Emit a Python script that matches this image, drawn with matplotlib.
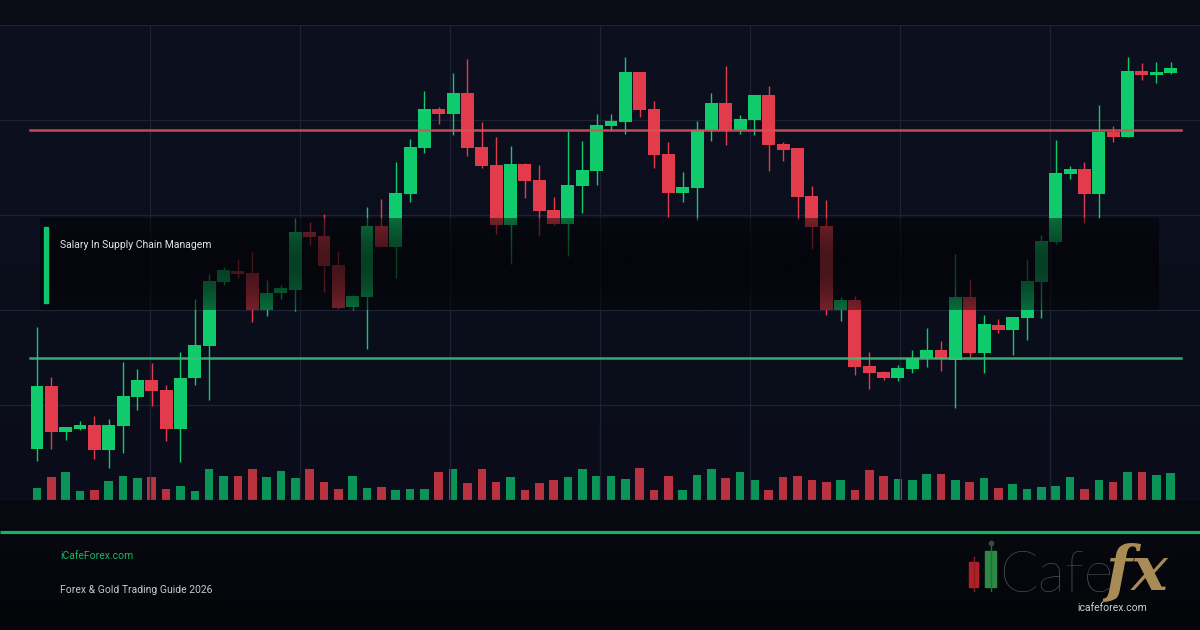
import numpy as np
import matplotlib
matplotlib.use('Agg')
import matplotlib.pyplot as plt
from matplotlib.patches import Rectangle

GREEN = '#0fcb6c'
RED = '#e23b4c'
VOL_GREEN = '#0b9458'
VOL_RED = '#b8323f'
GRID = '#1d2334'

# OHLC + volume
opens = [2310.3, 2322.8, 2313.6, 2314.2, 2314.9, 2310.0, 2314.9, 2320.7, 2324.0, 2322.0,
         2314.3, 2324.5, 2330.9, 2343.7, 2345.9, 2345.5, 2338.0, 2341.5, 2342.0, 2353.5,
         2352.8, 2347.0, 2338.7, 2340.7, 2354.8, 2350.7, 2361.2, 2370.5, 2378.2, 2377.3,
         2381.4, 2370.6, 2367.0, 2355.1, 2367.2, 2364.0, 2358.0, 2355.3, 2362.9, 2365.9,
         2374.9, 2375.7, 2385.6, 2378.2, 2369.2, 2361.5, 2362.5, 2374.0, 2379.4, 2374.1,
         2376.0, 2381.0, 2371.2, 2370.3, 2360.8, 2354.8, 2338.1, 2340.0, 2326.8, 2325.7,
         2324.5, 2326.3, 2328.5, 2330.0, 2328.1, 2340.6, 2329.5, 2335.1, 2334.1, 2336.5,
         2343.7, 2351.7, 2365.3, 2366.2, 2361.3, 2373.6, 2372.7, 2385.8, 2385.1, 2385.5]
highs = [2334.6, 2324.6, 2314.7, 2315.9, 2316.8, 2316.2, 2327.6, 2326.2, 2327.4, 2323.0,
         2329.6, 2340.2, 2345.2, 2346.7, 2348.3, 2349.6, 2344.0, 2343.0, 2356.5, 2355.6,
         2357.3, 2349.8, 2341.0, 2358.7, 2360.2, 2367.6, 2372.2, 2381.8, 2378.7, 2385.4,
         2388.2, 2375.7, 2372.7, 2370.9, 2367.4, 2367.0, 2360.6, 2373.9, 2371.8, 2377.2,
         2377.2, 2388.6, 2385.7, 2379.8, 2371.6, 2365.6, 2375.8, 2381.4, 2386.8, 2377.0,
         2381.0, 2382.8, 2371.6, 2370.5, 2362.9, 2360.1, 2340.7, 2340.9, 2329.7, 2325.8,
         2327.0, 2330.0, 2334.4, 2331.8, 2349.3, 2344.2, 2337.0, 2336.3, 2336.6, 2348.2,
         2353.0, 2372.0, 2366.8, 2367.6, 2379.0, 2374.9, 2388.6, 2387.4, 2387.6, 2387.6]
lows = [2307.9, 2310.3, 2312.0, 2314.0, 2308.3, 2306.5, 2309.4, 2318.0, 2318.9, 2311.8,
        2307.7, 2323.0, 2320.0, 2343.0, 2344.5, 2335.7, 2336.8, 2340.3, 2337.9, 2351.0,
        2341.7, 2338.3, 2338.0, 2330.2, 2350.6, 2344.5, 2359.7, 2369.5, 2375.2, 2373.1,
        2368.8, 2366.5, 2353.2, 2347.3, 2360.5, 2352.8, 2355.0, 2348.9, 2357.5, 2363.0,
        2373.8, 2373.3, 2376.7, 2366.5, 2356.7, 2359.7, 2356.0, 2371.9, 2371.1, 2373.3,
        2373.1, 2365.8, 2367.9, 2356.3, 2350.3, 2337.0, 2335.9, 2325.1, 2322.3, 2324.0,
        2323.9, 2325.5, 2326.7, 2325.9, 2318.5, 2328.7, 2325.5, 2333.5, 2329.0, 2332.1,
        2336.5, 2351.3, 2364.3, 2355.5, 2356.5, 2371.7, 2372.7, 2384.1, 2383.5, 2385.2]
closes = [2322.8, 2313.6, 2314.5, 2314.9, 2310.0, 2315.0, 2320.8, 2324.0, 2321.9, 2314.3,
          2324.5, 2331.0, 2343.8, 2345.9, 2345.3, 2338.0, 2341.5, 2342.3, 2353.6, 2352.7,
          2346.8, 2338.5, 2340.8, 2354.8, 2350.7, 2361.3, 2370.6, 2378.2, 2377.3, 2381.4,
          2370.5, 2366.8, 2355.1, 2367.2, 2363.9, 2357.8, 2355.2, 2363.0, 2366.0, 2375.0,
          2375.8, 2385.6, 2378.1, 2369.1, 2361.5, 2362.6, 2373.9, 2379.4, 2374.0, 2376.2,
          2381.0, 2371.0, 2370.1, 2360.7, 2354.6, 2338.1, 2340.0, 2326.7, 2325.5, 2324.5,
          2326.4, 2328.5, 2330.0, 2328.2, 2340.6, 2329.5, 2335.2, 2334.1, 2336.6, 2343.8,
          2351.8, 2365.4, 2366.2, 2361.3, 2373.6, 2372.7, 2385.8, 2385.1, 2385.6, 2386.4]
volumes = [480, 920, 1120, 360, 400, 760, 960, 880, 920, 440,
           560, 360, 1240, 960, 960, 1240, 920, 1160, 880, 1240,
           720, 440, 960, 480, 520, 400, 440, 440, 1120, 1240,
           680, 1240, 720, 920, 400, 680, 800, 920, 1240, 960,
           960, 840, 1280, 400, 960, 400, 1000, 1240, 880, 1120,
           800, 400, 920, 960, 800, 720, 800, 400, 1200, 960,
           840, 800, 1040, 1040, 800, 720, 880, 480, 640, 440,
           520, 560, 920, 440, 800, 720, 1120, 1120, 1000, 1080]
resistance = 2374.1
support = 2328.5
title = 'Salary In Supply Chain Managem'

o = np.array(opens)
h = np.array(highs)
l = np.array(lows)
c = np.array(closes)
v = np.array(volumes)
idx = np.arange(len(o))
up = c >= o

fig = plt.figure(figsize=(12, 6.3), dpi=100)

# background: darker strip on top, navy chart area, dark footer
bg = fig.add_axes([0, 0, 1, 1])
y = np.arange(630)[:, None]
c_top = np.array([9, 12, 21]) / 255
c_a = np.array([12, 16, 31]) / 255
c_b = np.array([10, 13, 25]) / 255
c_f1 = np.array([8, 10, 17]) / 255
c_f2 = np.array([4, 5, 9]) / 255
grad = np.where(y < 25, c_top,
                np.where(y < 500, c_a + (c_b - c_a) * ((y - 25) / 475),
                         c_f1 + (c_f2 - c_f1) * ((y - 500) / 130)))
bg.imshow(grad[:, None, :], aspect='auto', extent=[0, 1, 0, 1])
bg.axis('off')

pos = [0, 130 / 630, 1, 475 / 630]
x0, x1 = -2.578, 81.05

# volume underneath
vax = fig.add_axes(pos)
vax.set_facecolor('none')
vax.bar(idx, v, width=0.6, color=np.where(up, VOL_GREEN, VOL_RED), linewidth=0)
vax.set_xlim(x0, x1)
vax.set_ylim(0, 475 * 40)
vax.axis('off')

ax = fig.add_axes(pos)
ax.set_facecolor('none')
for k in range(1, 8):
    ax.plot([k / 8, k / 8], [0, 1], transform=ax.transAxes, color=GRID, lw=0.9, zorder=0)
for k in range(6):
    ax.plot([0, 1], [k / 5, k / 5], transform=ax.transAxes, color=GRID, lw=0.9, zorder=0)

cols = np.where(up, GREEN, RED)
ax.vlines(idx, l, h, colors=cols, lw=1.0, zorder=3)
ax.bar(idx, np.maximum(np.abs(c - o), 0.3), bottom=np.minimum(o, c), width=0.9,
       color=cols, linewidth=0, zorder=4)

ax.axhline(resistance, xmin=0.025, xmax=0.984, color='#d9505b', lw=1.8, alpha=0.9, zorder=5)
ax.axhline(support, xmin=0.025, xmax=0.984, color='#3dbb7a', lw=1.8, alpha=0.9, zorder=5)
ax.set_xlim(x0, x1)
ax.set_ylim(2300, 2395)
ax.axis('off')

# overlay: label box, footer, logo (pixel coordinates)
deco = fig.add_axes([0, 0, 1, 1])
deco.set_facecolor('none')

t = np.linspace(0, 1, 100)
box = np.zeros((100, 1, 4))
box[:, 0, :3] = np.array([2, 3, 5]) / 255
box[:, 0, 3] = 0.48 + 0.22 * np.sin(np.pi * t)
deco.imshow(box, extent=[40, 1159, 310, 218], aspect='auto', zorder=6)
deco.set_xlim(0, 1200)
deco.set_ylim(630, 0)
deco.axis('off')
deco.add_patch(Rectangle((44, 227), 3.7, 76, color='#10c46c', zorder=7))
deco.text(60, 245, title, color='#e4e4e4', fontsize=7.5, family='Roboto',
          va='center', ha='left', zorder=7)

deco.plot([0, 1200], [531.5, 531.5], color='#10b463', lw=2.3, solid_capstyle='butt')
deco.text(60, 556, 'iCafeForex.com', color='#17b765', fontsize=7.5, family='Roboto',
          va='center', ha='left')
deco.text(60, 590, 'Forex & Gold Trading Guide 2026', color='#c9c9c9', fontsize=7.5,
          family='Roboto', va='center', ha='left')

# logo
deco.plot([973.5, 973.5], [557, 591], color='#8a1c22', lw=1)
deco.add_patch(Rectangle((969, 562), 9, 25, color='#b0202a'))
deco.plot([990.5, 990.5], [544, 591], color='#256b38', lw=1)
deco.plot([990.5], [543], 'o', color='#3d4a40', ms=3)
deco.add_patch(Rectangle((985, 551), 11, 36, color='#2d8a45'))
deco.text(999, 592, 'Cafe', color='#5c5c5c', fontsize=41, family='Lato',
          fontweight='light', va='baseline', ha='left')
deco.text(1106, 590, 'fx', color='#a98b56', fontsize=44, family='DejaVu Serif',
          fontweight='bold', style='italic', va='baseline', ha='left')
deco.text(1112, 608, 'icafeforex.com', color='#cfcfcf', fontsize=7.5, family='Roboto',
          va='center', ha='center')

fig.savefig('out.png', dpi=100)
